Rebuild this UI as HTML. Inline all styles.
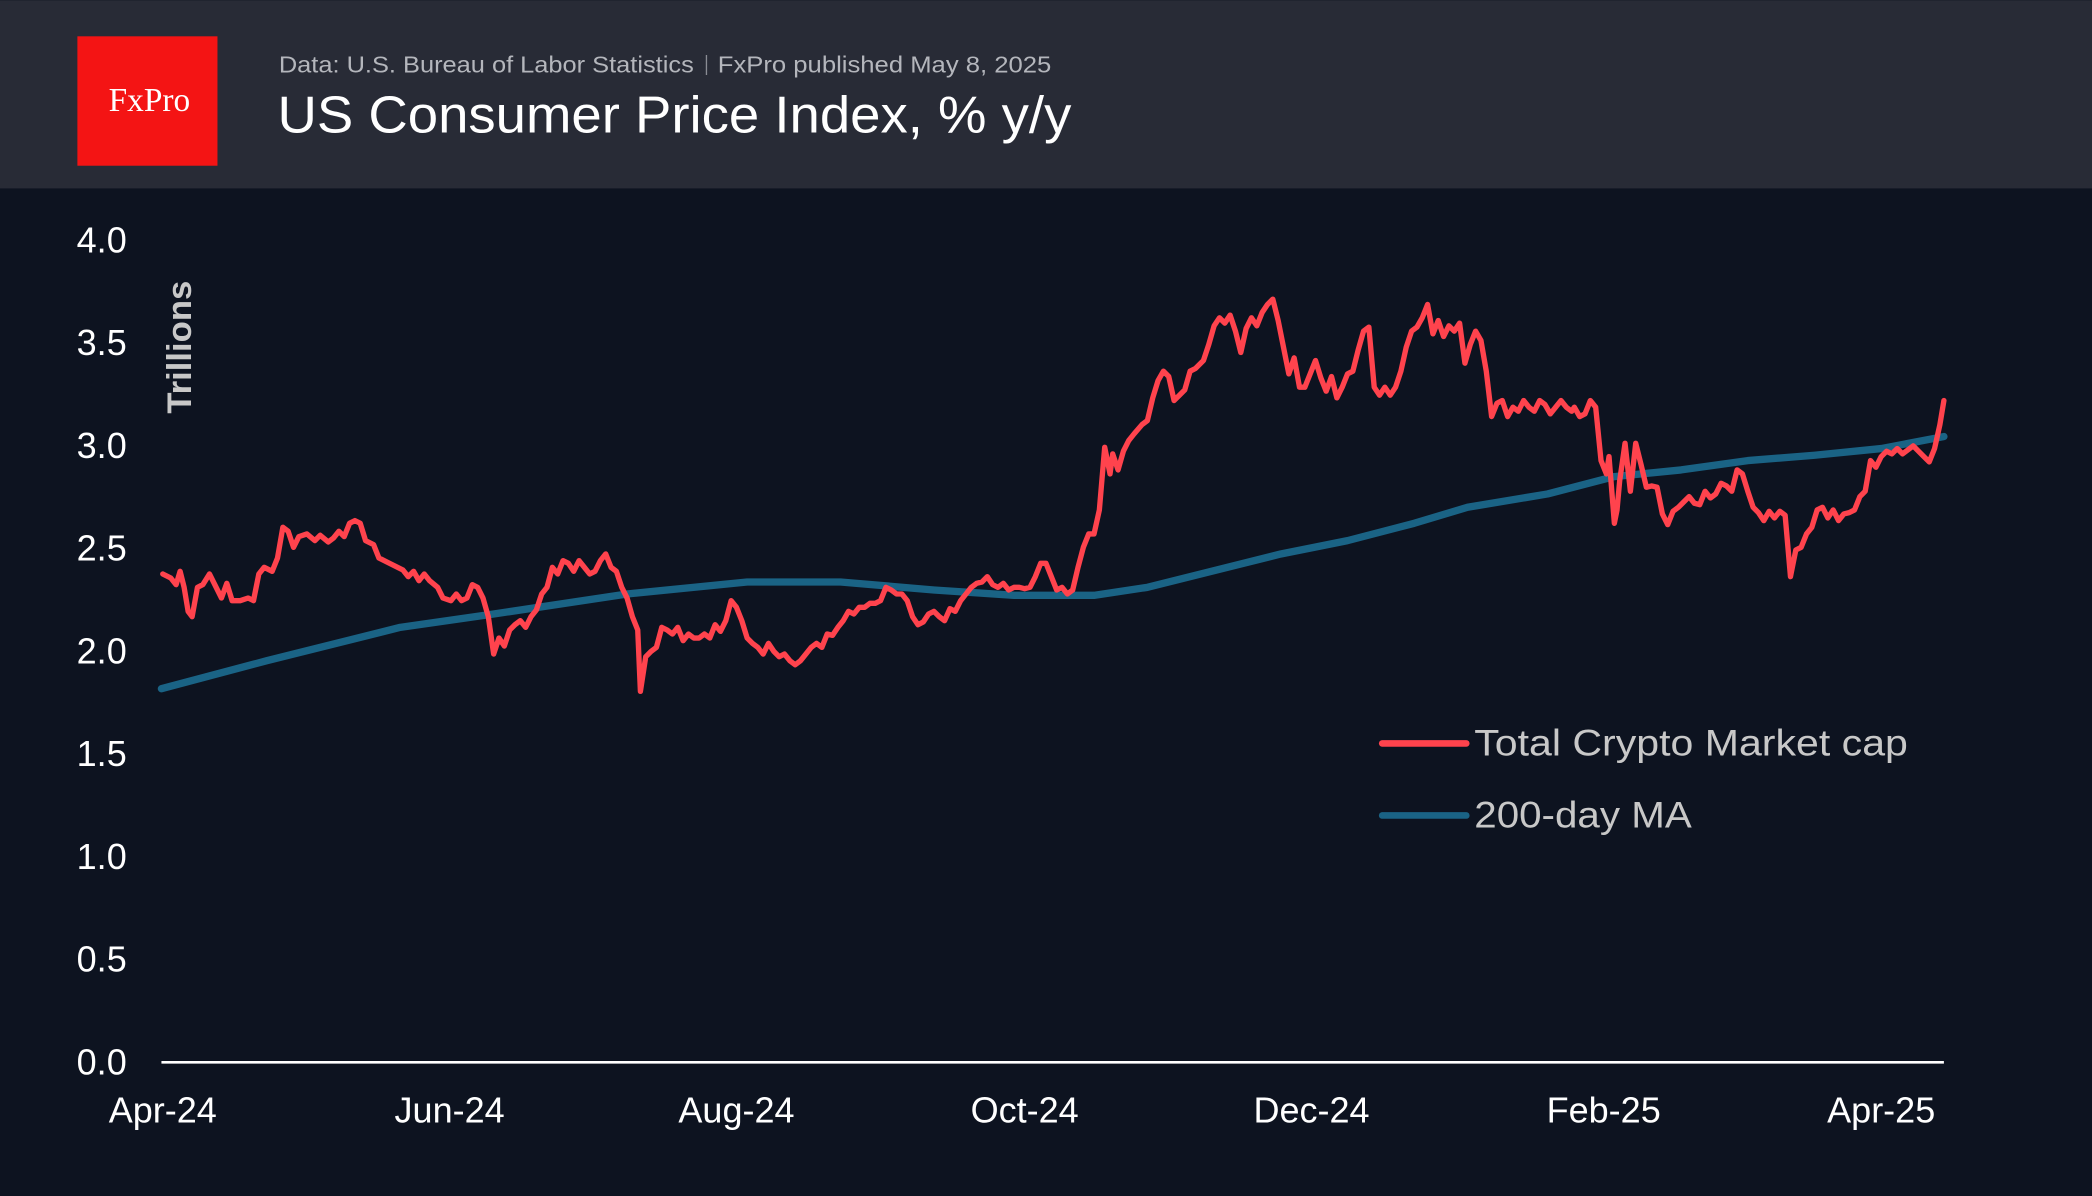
<!DOCTYPE html>
<html><head><meta charset="utf-8"><style>
html,body{margin:0;padding:0;background:#0d1320;}
svg{display:block;}
</style></head><body>
<svg width="2092" height="1196" viewBox="0 0 1568 896" xmlns="http://www.w3.org/2000/svg" font-family="Liberation Sans, sans-serif">
<rect x="0" y="0" width="1568" height="896" fill="#0d1320"/>
<rect x="0" y="0" width="1568" height="141" fill="#282b36"/>
<rect x="58" y="27" width="105" height="97" fill="#f41414"/>
<text x="112" y="83" text-anchor="middle" font-family="Liberation Serif, serif" font-size="25" fill="#fff">FxPro</text>
<text x="209" y="54" font-size="17" fill="#b4b6bc" textLength="311" lengthAdjust="spacingAndGlyphs">Data: U.S. Bureau of Labor Statistics</text>
<rect x="529" y="41" width="1" height="15" fill="#8a8c94"/>
<text x="538" y="54" font-size="17" fill="#b4b6bc" textLength="250" lengthAdjust="spacingAndGlyphs">FxPro published May 8, 2025</text>
<text x="208" y="99" font-size="39" fill="#fff" textLength="595" lengthAdjust="spacingAndGlyphs">US Consumer Price Index, % y/y</text>

<g font-size="27" fill="#fff" text-anchor="end">
<text x="95" y="189">4.0</text>
<text x="95" y="266">3.5</text>
<text x="95" y="343">3.0</text>
<text x="95" y="420">2.5</text>
<text x="95" y="497">2.0</text>
<text x="95" y="574">1.5</text>
<text x="95" y="651">1.0</text>
<text x="95" y="728">0.5</text>
<text x="95" y="805">0.0</text>
</g>
<text transform="translate(143,260) rotate(-90)" text-anchor="middle" font-size="26" font-weight="bold" fill="#c8c8c8">Trillions</text>
<line x1="121" y1="796" x2="1457" y2="796" stroke="#fff" stroke-width="2"/>
<g font-size="27" fill="#fff" text-anchor="middle">
<text x="122" y="841">Apr-24</text>
<text x="337" y="841">Jun-24</text>
<text x="552" y="841">Aug-24</text>
<text x="768" y="841">Oct-24</text>
<text x="983" y="841">Dec-24</text>
<text x="1202" y="841">Feb-25</text>
<text x="1410" y="841">Apr-25</text>
</g>

<polyline fill="none" stroke="#1a6385" stroke-width="5.5" stroke-linecap="round" stroke-linejoin="round" points="121,516 200,495 300,470 370,460 470,445 560,436 630,436 700,442 760,446 820,446 860,440 920,425 960,415 1010,405 1060,392 1100,380 1160,370 1210,357 1260,352 1310,345 1360,341 1410,336 1457,327"/>

<polyline fill="none" stroke="#ff434d" stroke-width="4" stroke-linecap="round" stroke-linejoin="round" points="122,430 128,433 132,438 135,428 138,440 141,458 144,462 148,440 152,438 157,430 162,440 166,448 170,437 174,450 180,450 186,448 190,450 194,430 198,425 204,428 208,418 212,395 216,398 220,410 224,402 230,400 236,405 240,401 246,406 250,403 254,398 258,402 262,392 266,390 270,392 274,405 280,408 284,418 290,421 296,424 302,427 306,432 310,428 314,435 318,430 322,435 328,440 332,448 338,450 342,445 346,450 350,448 354,438 358,440 362,448 366,462 370,490 374,478 378,484 382,472 386,468 390,465 394,470 398,462 402,457 406,445 410,440 414,425 418,430 422,420 426,422 430,428 434,420 438,425 442,430 446,428 450,420 454,415 458,425 462,428 466,440 470,448 474,462 478,472 480,518 484,492 488,488 492,485 496,470 500,472 504,475 508,470 512,480 516,475 520,478 524,478 528,475 532,478 536,468 540,473 544,465 548,450 552,455 556,465 560,478 564,482 568,485 572,490 576,482 580,488 584,492 588,490 592,495 596,498 600,495 604,490 608,485 612,482 616,485 620,475 624,476 628,470 632,465 636,458 640,460 644,455 648,455 652,452 656,452 660,450 664,440 668,442 672,445 676,445 680,450 684,462 688,468 692,466 696,460 700,458 704,462 708,465 712,456 716,458 720,450 724,445 728,440 732,437 736,436 740,432 744,438 748,440 752,437 756,442 760,440 764,440 768,441 772,440 776,432 780,422 784,422 788,432 792,442 796,440 800,445 804,442 808,425 812,410 816,400 820,400 824,382 828,335 832,355 834,340 838,352 842,338 846,330 850,325 856,318 860,315 864,298 868,285 872,278 876,282 880,300 884,296 888,292 892,278 896,276 902,270 906,258 910,244 914,238 918,242 922,236 926,248 930,264 934,246 938,238 942,244 946,234 950,228 954,224 958,240 962,260 966,280 970,268 974,290 978,290 982,280 986,270 990,283 994,293 998,282 1002,298 1006,290 1010,280 1014,278 1018,262 1022,248 1026,245 1030,290 1034,296 1038,290 1042,296 1046,290 1050,278 1054,260 1058,248 1062,245 1066,238 1070,228 1074,250 1078,240 1082,252 1086,244 1090,248 1094,242 1098,272 1102,258 1106,248 1110,255 1114,278 1118,312 1122,302 1126,300 1130,312 1134,305 1138,308 1142,300 1146,305 1150,308 1154,300 1158,303 1162,310 1166,305 1170,300 1174,305 1178,308 1180,305 1184,312 1188,310 1192,300 1196,305 1200,345 1204,355 1206,342 1210,392 1212,382 1214,360 1218,332 1222,368 1226,332 1230,348 1234,365 1238,364 1242,365 1246,385 1250,393 1254,383 1258,380 1262,376 1266,372 1270,377 1274,378 1278,368 1282,373 1286,370 1290,362 1294,364 1298,368 1302,352 1306,355 1310,368 1314,380 1318,384 1322,390 1326,383 1330,388 1334,383 1338,386 1342,432 1346,412 1350,410 1354,400 1358,395 1362,382 1366,380 1370,388 1374,382 1378,390 1382,385 1386,384 1390,382 1394,372 1398,368 1402,345 1406,350 1410,342 1414,338 1418,340 1422,336 1426,340 1430,337 1434,334 1438,338 1442,342 1446,346 1450,336 1454,318 1457,300"/>

<line x1="1036" y1="557" x2="1099" y2="557" stroke="#ff434d" stroke-width="5" stroke-linecap="round"/>
<text x="1105" y="566" font-size="28" fill="#c8c8c8" textLength="325" lengthAdjust="spacingAndGlyphs">Total Crypto Market cap</text>
<line x1="1036" y1="611" x2="1099" y2="611" stroke="#1a6385" stroke-width="5" stroke-linecap="round"/>
<text x="1105" y="620" font-size="28" fill="#c8c8c8" textLength="163" lengthAdjust="spacingAndGlyphs">200-day MA</text>
</svg>
</body></html>
